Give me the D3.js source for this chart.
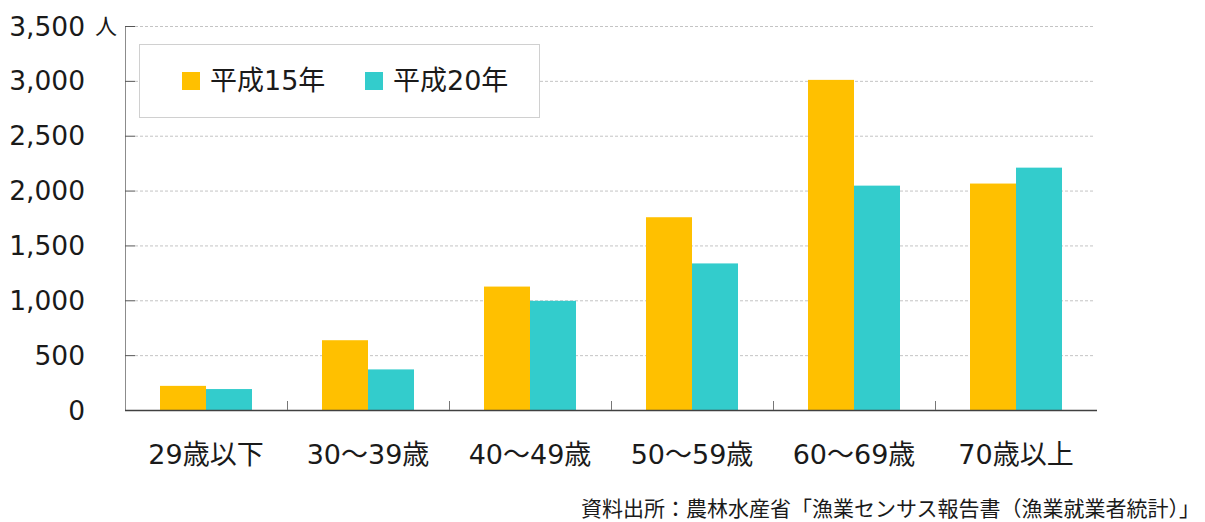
<!DOCTYPE html>
<html>
<head>
<meta charset="utf-8">
<script src="https://cdn.jsdelivr.net/npm/d3@7"></script>
<style>
  body { margin: 0; background: #fff; }
  text { font-family: "DejaVu Sans", "Noto Sans CJK JP", sans-serif; fill: #1a1a1a; }
</style>
</head>
<body>
<div id="chart"></div>
<script>
const width = 1205;
const height = 522;

// data
const categories = ["29歳以下", "30～39歳", "40～49歳", "50～59歳", "60～69歳", "70歳以上"];
const seriesNames = ["平成15年", "平成20年"];
const h15 = [220, 636, 1125, 1757, 3009, 2064];
const h20 = [191, 370, 995, 1336, 2045, 2209];
const yTicks = [0, 500, 1000, 1500, 2000, 2500, 3000, 3500];
const colors = ["#FFC000", "#33CCCC"];
const source = "資料出所：農林水産省「漁業センサス報告書（漁業就業者統計）」";

const margin = { left: 125, right: 108, top: 26, bottom: 112 };
const plotW = width - margin.left - margin.right;
const plotH = height - margin.top - margin.bottom;

const svg = d3.select("#chart").append("svg")
    .attr("width", width)
    .attr("height", height);

const g = svg.append("g")
    .attr("transform", `translate(${margin.left},${margin.top})`);

const x = d3.scaleBand()
    .domain(categories)
    .range([0, plotW])
    .paddingInner(0)
    .paddingOuter(0);

const xInner = d3.scaleBand()
    .domain(seriesNames)
    .range([35, x.bandwidth() - 35]);

const y = d3.scaleLinear()
    .domain([0, 3500])
    .range([plotH, 0]);

// dashed grid lines
g.selectAll(".grid")
    .data(yTicks.filter(d => d > 0))
    .enter()
    .append("line")
    .attr("x1", 10)
    .attr("x2", plotW - 2)
    .attr("y1", d => y(d) + 0.5)
    .attr("y2", d => y(d) + 0.5)
    .attr("stroke", "#c4c4c4")
    .attr("stroke-width", 1)
    .attr("stroke-dasharray", "3,2");

// bars
const rows = categories.map((c, i) => ({ cat: c, values: [h15[i], h20[i]] }));

const groups = g.selectAll(".group")
    .data(rows)
    .enter()
    .append("g")
    .attr("transform", d => `translate(${x(d.cat)},0)`);

groups.selectAll("rect")
    .data(d => d.values.map((v, k) => ({ name: seriesNames[k], value: v, k: k })))
    .enter()
    .append("rect")
    .attr("x", d => xInner(d.name))
    .attr("width", xInner.bandwidth())
    .attr("y", d => y(d.value))
    .attr("height", d => plotH - y(d.value))
    .attr("fill", d => colors[d.k]);

// y axis (ticks point inward)
const yAxis = g.append("g")
    .call(d3.axisRight(y).tickValues(yTicks).tickSize(10).tickFormat(""));
yAxis.select(".domain")
    .attr("d", `M0.5,${plotH}V0.5`)
    .attr("stroke", "#8c8c8c");
yAxis.selectAll(".tick line").attr("stroke", "#555");

g.selectAll(".ylabel")
    .data(yTicks)
    .enter()
    .append("text")
    .attr("x", -40)
    .attr("y", d => y(d))
    .attr("dy", "0.36em")
    .attr("text-anchor", "end")
    .attr("font-size", "26.5px")
    .text(d => d3.format(",")(d));

g.append("text")
    .attr("x", -30)
    .attr("y", y(3500))
    .attr("dy", "0.36em")
    .attr("font-size", "22px")
    .attr("font-family", "Noto Sans CJK JP")
    .text("人");

// x axis with separators between categories
const xAxis = g.append("g")
    .attr("transform", `translate(0,${plotH})`);
xAxis.append("line")
    .attr("x1", 0)
    .attr("x2", plotW)
    .attr("y1", 0.5)
    .attr("y2", 0.5)
    .attr("stroke", "#404040")
    .attr("stroke-width", 1.5);
xAxis.selectAll(".sep")
    .data(categories.slice(1))
    .enter()
    .append("line")
    .attr("x1", d => x(d) + 0.5)
    .attr("x2", d => x(d) + 0.5)
    .attr("y1", 0)
    .attr("y2", -9)
    .attr("stroke", "#777");
xAxis.selectAll(".xlabel")
    .data(categories)
    .enter()
    .append("text")
    .attr("x", d => x(d) + x.bandwidth() / 2)
    .attr("y", 44)
    .attr("dy", "0.36em")
    .attr("text-anchor", "middle")
    .attr("font-size", "27px")
    .text(d => d);

// legend
const legend = svg.append("g").attr("transform", "translate(139,44)");
legend.append("rect")
    .attr("x", 0.5)
    .attr("y", 0.5)
    .attr("width", 400)
    .attr("height", 73)
    .attr("fill", "#fff")
    .attr("stroke", "#d0d0d0");
const legendX = [43, 226];
seriesNames.forEach((name, k) => {
    legend.append("rect")
        .attr("x", legendX[k])
        .attr("y", 28)
        .attr("width", 18)
        .attr("height", 18)
        .attr("fill", colors[k]);
    legend.append("text")
        .attr("x", legendX[k] + 28)
        .attr("y", 36)
        .attr("dy", "0.36em")
        .attr("font-size", "27px")
        .text(name);
});

// source note
svg.append("text")
    .attr("x", 1200)
    .attr("y", 508)
    .attr("dy", "0.36em")
    .attr("text-anchor", "end")
    .attr("font-size", "21px")
    .attr("font-family", "Noto Sans CJK JP")
    .text(source);
</script>
</body>
</html>
